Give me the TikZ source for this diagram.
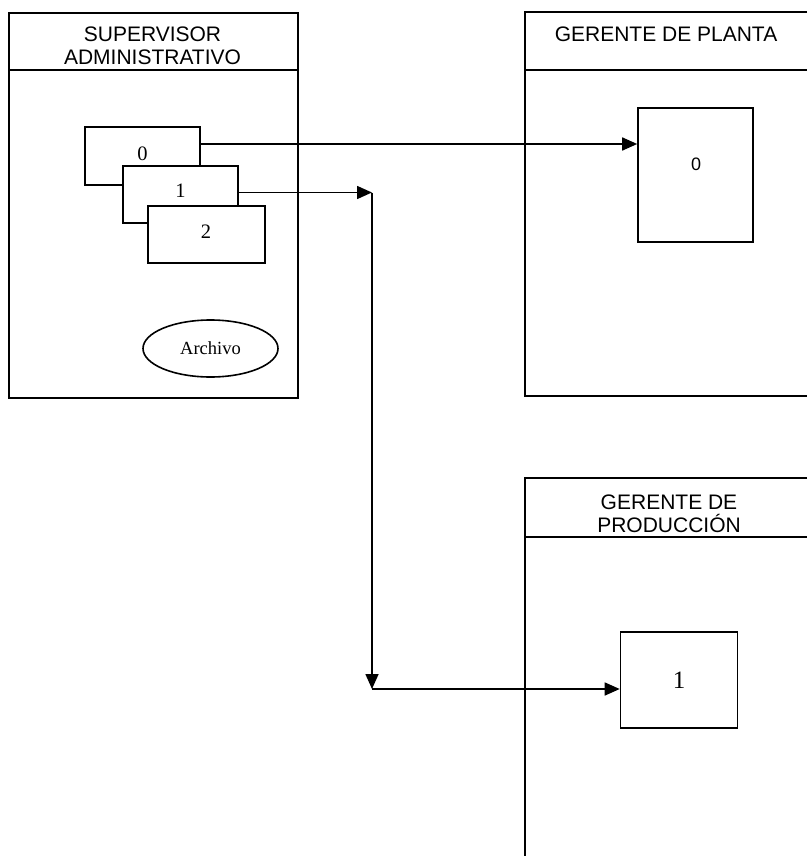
\documentclass[tikz,border=0pt]{standalone}
\usepackage{fontspec}
\setmainfont{Liberation Serif}
\setsansfont{Liberation Sans}
\usetikzlibrary{arrows.meta,calc,shapes.geometric}
\begin{document}
\begin{tikzpicture}[x=1pt,y=-1pt,
  lane/.style={draw, line width=1.6pt},
  card/.style={draw, fill=white, line width=1.6pt, rectangle, inner sep=0pt},
  head/.style={font=\sffamily\fontsize{21}{23}\selectfont, align=center, inner sep=0pt},
  numtxt/.style={font=\rmfamily\fontsize{20.5}{22}\selectfont, anchor=base, inner sep=0pt},
  arr/.style={line width=1.6pt, -{Triangle[length=15pt,width=13pt]}},
]
\useasboundingbox (0,0) rectangle (807,856);
% lane: supervisor
\node[lane, rectangle, minimum width=289pt, minimum height=385pt, inner sep=0pt, anchor=north west] (sup) at (8,12) {};
\coordinate (suph) at (0,70);
\draw[lane] (sup.west |- suph) -- (sup.east |- suph);
\node[head] (supt) at (152.5,46) {SUPERVISOR\\ADMINISTRATIVO};
% lane: gerente de planta
\coordinate (plnw) at (525,12);
\coordinate (plsw) at (525,396);
\coordinate (plh) at (525,70);
\draw[lane] (807,12) -- (plnw) -- (plsw) -- (807,396);
\draw[lane] (plh) -- (807,70);
\node[head, anchor=base] (plt) at (666,42) {GERENTE DE PLANTA};
% lane: gerente de produccion
\coordinate (prnw) at (525,478);
\coordinate (prh) at (525,537);
\draw[lane] (807,478) -- (prnw) -- (525,856);
\draw[lane] (prh) -- (807,537);
\node[head] (prt) at (669,514) {GERENTE DE\\PRODUCCIÓN};
% cards in supervisor lane
\node[card, minimum width=115pt, minimum height=58pt] (b0) at (142.5,156) {};
\node[numtxt] (b0t) at (142.5,160) {0};
\node[card, minimum width=115pt, minimum height=57pt] (b1) at (180.5,194.5) {};
\node[numtxt] (b1t) at (180.5,197) {1};
\node[card, minimum width=117pt, minimum height=57pt] (b2) at (206.5,234.5) {};
\node[numtxt] (b2t) at (206,238) {2};
\node[draw, ellipse, line width=1.6pt, minimum width=135pt, minimum height=57pt, inner sep=0pt,
      font=\rmfamily\fontsize{18.5}{20}\selectfont] (arch) at (210.5,348.5) {Archivo};
% card in planta lane
\node[card, minimum width=115pt, minimum height=134pt] (p0) at (695.5,175) {};
\node[font=\sffamily\fontsize{18}{20}\selectfont, anchor=base, inner sep=0pt] (p0t) at (696,170) {0};
% card in produccion lane
\node[card, font=\rmfamily\fontsize{25}{27}\selectfont, minimum width=117pt, minimum height=96pt] (q1) at (679,680) {1};
% connectors
\coordinate (a0) at ([yshift=12pt]b0.east);
\draw[arr] (a0) -- (a0 -| p0.west);
\coordinate (jx) at (372,0);
\coordinate (j1) at ([yshift=2pt]b1.east -| jx);
\coordinate (j2) at (372,689);
\draw[arr] ([yshift=2pt]b1.east) -- (j1);
\draw[arr] (j1) -- (j2);
\draw[arr] (j2) -- (j2 -| q1.west);
\end{tikzpicture}
\end{document}
